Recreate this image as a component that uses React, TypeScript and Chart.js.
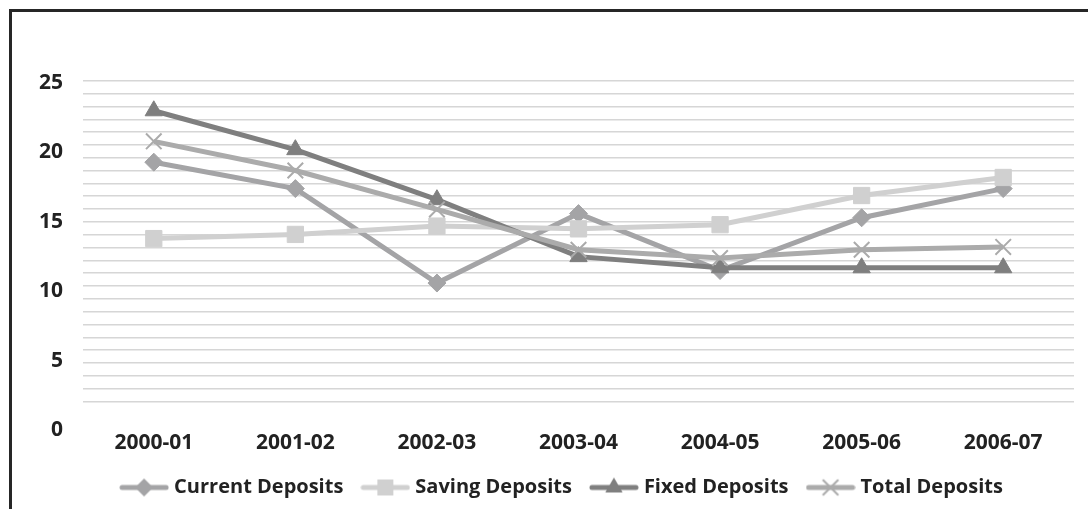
import React, { useEffect, useRef } from "react";
import { Chart, registerables } from "chart.js";

Chart.register(...registerables);

const categories = ["2000-01", "2001-02", "2002-03", "2003-04", "2004-05", "2005-06", "2006-07"];
const currentDeposits = [19.3, 17.4, 10.6, 15.6, 11.5, 15.3, 17.4];
const savingDeposits = [13.8, 14.1, 14.7, 14.5, 14.8, 16.9, 18.2];
const fixedDeposits = [23.0, 20.2, 16.6, 12.5, 11.7, 11.7, 11.7];
const totalDeposits = [20.8, 18.7, 15.9, 13.0, 12.4, 13.0, 13.2];
const seriesNames = ["Current Deposits", "Saving Deposits", "Fixed Deposits", "Total Deposits"];
const yTickValues = [0, 5, 10, 15, 20, 25];
const gridTickValues = [0, 1, 2, 3, 4, 5, 6, 7, 8, 9, 10, 11, 12, 13, 14, 15, 16, 17, 18, 19, 20, 21, 22, 23, 24, 25];

const COLORS = ["#a4a4a6", "#d0d0d0", "#7f7f7f", "#ababab"];
const STYLES = ["rectRot", "rect", "triangle", "crossRot"];
const AXIS_FONT = { family: "'Open Sans', sans-serif", weight: "bold" as const, size: 21 };
const LEGEND_FONT = { family: "'Open Sans', sans-serif", weight: "bold" as const, size: 20 };
const TEXT = "#222222";

function makeIcon(kind: string, color: string): HTMLCanvasElement {
  const c = document.createElement("canvas");
  c.width = 50;
  c.height = 22;
  const ctx = c.getContext("2d")!;
  const cx = 25, cy = 11;
  ctx.strokeStyle = color;
  ctx.fillStyle = color;
  ctx.lineCap = "round";
  ctx.lineWidth = 5;
  ctx.beginPath();
  ctx.moveTo(3, cy);
  ctx.lineTo(47, cy);
  ctx.stroke();
  ctx.beginPath();
  if (kind === "rectRot") {
    const r = 9;
    ctx.moveTo(cx, cy - r);
    ctx.lineTo(cx + r, cy);
    ctx.lineTo(cx, cy + r);
    ctx.lineTo(cx - r, cy);
    ctx.closePath();
    ctx.fill();
  } else if (kind === "rect") {
    ctx.fillRect(cx - 8, cy - 8, 16, 16);
  } else if (kind === "triangle") {
    const r = 10;
    ctx.moveTo(cx, cy - r);
    ctx.lineTo(cx + r * Math.sin((2 * Math.PI) / 3), cy + r / 2);
    ctx.lineTo(cx - r * Math.sin((2 * Math.PI) / 3), cy + r / 2);
    ctx.closePath();
    ctx.fill();
  } else {
    const d = 7.8;
    ctx.lineWidth = 2;
    ctx.lineCap = "butt";
    ctx.moveTo(cx - d, cy - d);
    ctx.lineTo(cx + d, cy + d);
    ctx.moveTo(cx + d, cy - d);
    ctx.lineTo(cx - d, cy + d);
    ctx.stroke();
  }
  return c;
}

const legendShift = {
  id: "legendShift",
  afterLayout(chart: any) {
    if (chart.legend) {
      chart.legend.left += 7;
      chart.legend.right += 7;
    }
  },
};

export default function App() {
  const ref = useRef<HTMLCanvasElement | null>(null);

  useEffect(() => {
    if (!ref.current) return;
    const icons = STYLES.map((s, i) => makeIcon(s, COLORS[i]));
    const values = [currentDeposits, savingDeposits, fixedDeposits, totalDeposits];
    const radii = [9, 11.5, 10, 11];
    const pointBorders = [1, 1, 1, 2];
    const orders = [4, 3, 2, 1];

    const chartBottomPx = 418.3;
    const labelTopPx = 71;
    const chartTopPx = 58;
    const labelPxPerUnit = (chartBottomPx - labelTopPx) / 25;
    const yMax = (chartBottomPx - chartTopPx) / labelPxPerUnit;
    const gridZeroPx = 389.3;
    const gridTopPx = 68.8;
    const gridPxPerUnit = (gridZeroPx - gridTopPx) / 25;
    const gMin = -(chartBottomPx - gridZeroPx) / gridPxPerUnit;
    const gMax = gMin + (chartBottomPx - chartTopPx) / gridPxPerUnit;

    const chart = new Chart(ref.current, {
      type: "line",
      plugins: [legendShift],
      data: {
        labels: categories,
        datasets: seriesNames.map((name, i) => ({
          label: name,
          data: values[i],
          yAxisID: "y",
          borderColor: COLORS[i],
          backgroundColor: COLORS[i],
          borderWidth: 5,
          tension: 0,
          fill: false,
          pointStyle: STYLES[i] as any,
          pointRadius: radii[i],
          pointBackgroundColor: COLORS[i],
          pointBorderColor: COLORS[i],
          pointBorderWidth: pointBorders[i],
          order: orders[i],
        })),
      },
      options: {
        animation: false,
        responsive: false,
        maintainAspectRatio: false,
        devicePixelRatio: 1,
        layout: { padding: { left: 27, right: 14, top: chartTopPx, bottom: 1.5 } },
        scales: {
          x: {
            type: "category",
            offset: true,
            grid: { display: false, drawTicks: false },
            border: { display: false },
            ticks: { padding: 0, font: AXIS_FONT, color: TEXT, maxRotation: 0 },
          },
          y: {
            position: "left",
            min: 0,
            max: yMax,
            afterBuildTicks: (s: any) => {
              s.ticks = yTickValues.map((v) => ({ value: v }));
            },
            afterFit: (s: any) => {
              s.width = 44;
            },
            grid: { display: false, drawTicks: false },
            border: { display: false },
            ticks: { padding: 20, font: AXIS_FONT, color: TEXT },
          },
          g: {
            type: "linear",
            position: "left",
            min: gMin,
            max: gMax,
            afterBuildTicks: (s: any) => {
              s.ticks = gridTickValues.map((v) => ({ value: v }));
            },
            afterFit: (s: any) => {
              s.width = 0;
            },
            grid: { color: "#d6d6d6", lineWidth: 1.4, drawTicks: false },
            border: { display: false },
            ticks: { display: false },
          },
        } as any,
        plugins: {
          tooltip: { enabled: false },
          legend: {
            position: "bottom",
            labels: {
              usePointStyle: true,
              pointStyleWidth: 40,
              padding: 22,
              font: LEGEND_FONT,
              color: TEXT,
              generateLabels: () =>
                seriesNames.map((name, i) => ({
                  text: name,
                  pointStyle: icons[i] as any,
                  fillStyle: COLORS[i],
                  strokeStyle: COLORS[i],
                  lineWidth: 0,
                  hidden: false,
                  datasetIndex: i,
                  fontColor: TEXT,
                })),
            },
          },
        },
      },
    });
    return () => chart.destroy();
  }, []);

  return (
    <div style={{ position: "fixed", left: 0, top: 0, width: 1088, height: 509, background: "#ffffff", overflow: "hidden" }}>
      <div
        style={{
          position: "absolute",
          left: 9,
          top: 9,
          width: 1079,
          height: 500,
          borderTop: "3px solid #262626",
          borderLeft: "3px solid #262626",
          boxSizing: "border-box",
        }}
      >
        <canvas ref={ref} width={1076} height={497} style={{ display: "block", position: "absolute", left: 0, top: 0 }} />
      </div>
    </div>
  );
}
